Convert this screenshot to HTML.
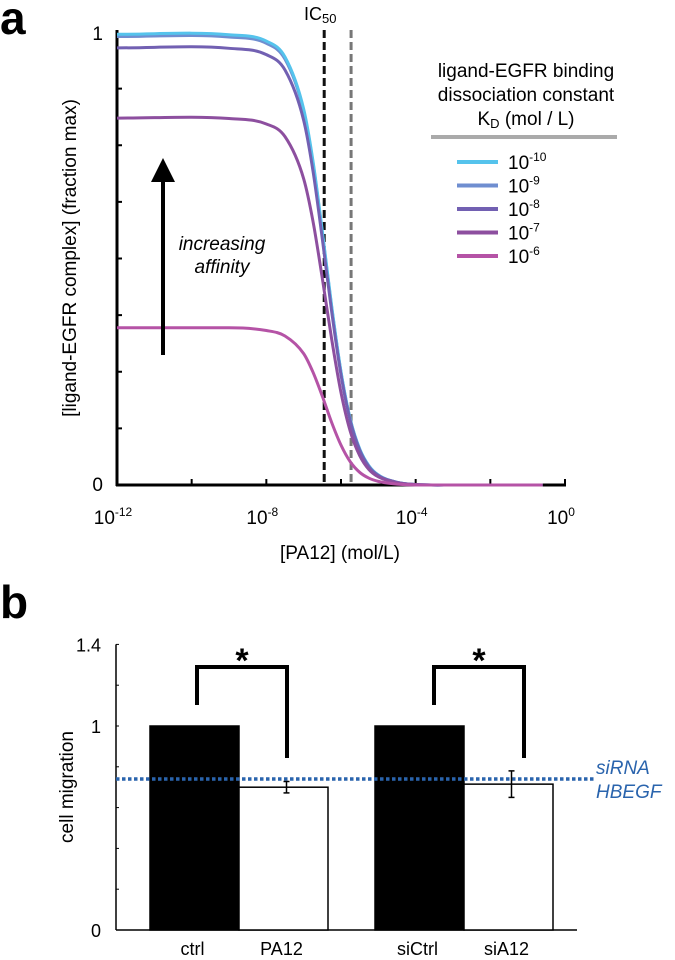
<!DOCTYPE html>
<html><head><meta charset="utf-8">
<style>
html,body{margin:0;padding:0;background:#fff;}
svg{display:block;font-family:"Liberation Sans",sans-serif;}
</style></head>
<body>
<svg width="675" height="960" viewBox="0 0 675 960">
  <text x="0" y="34" font-size="46" font-weight="bold">a</text>
  <g id="chartA"></g>
  <text x="0" y="618" font-size="46" font-weight="bold">b</text>
  <g id="chartB"></g>
</svg>
<script>
// ---- Panel a data ----
const logX = [-12,-9,-8,-7.5,-7,-6.75,-6.5,-6.25,-6,-5.75,-5.5,-5.25,-5,-4.5,-4,-3,-0.6];
const kdLabels = ["-10","-9","-8","-7","-6"];
const s10 = [.995,.994,.980,.945,.830,.715,.560,.395,.250,.145,.080,.042,.022,.006,.001,0,0];
const s9  = [.99,.989,.975,.940,.826,.711,.557,.393,.249,.144,.079,.042,.022,.006,.001,0,0];
const s8  = [.965,.964,.950,.916,.805,.693,.543,.383,.243,.141,.077,.040,.021,.006,.001,0,0];
const s7  = [.81,.809,.797,.769,.676,.582,.456,.322,.204,.118,.065,.034,.018,.005,.001,0,0];
const s6  = [.347,.347,.341,.329,.290,.249,.196,.138,.088,.051,.028,.015,.008,.002,0,0,0];
const xTickLogs = [-12,-10,-8,-6,-4,-2,0];
const xLabelLogs = [-12,-8,-4,0];
const ic50Log = -6.45;
const ic50GrayLog = -5.73;
// ---- Panel b data ----
const barCats = ["ctrl","PA12","siCtrl","siA12"];
const barVals = [1,0.70,1,0.715];
const barErrs = [0,0.028,0,0.065];
const siRNALevel = 0.74;
const yTicksB = [0,0.2,0.4,0.6,0.8,1,1.2,1.4];
const yLabelsB = ["0","1","1.4"];
const yLabelValsB = [0,1,1.4];

const NS="http://www.w3.org/2000/svg";
function mk(tag,attrs,parent,text){const e=document.createElementNS(NS,tag);for(const k in attrs)e.setAttribute(k,attrs[k]);if(text!==undefined)e.textContent=text;parent.appendChild(e);return e;}

// Panel a
const A=document.getElementById('chartA');
const ax0=117, ax1=565, ay0=485, ay1=32;
const xA=l=>ax0+(l+12)/12*(ax1-ax0);
const yA=v=>ay0-v*(ay0-ay1);
function smooth(xs,ys){
  const n=xs.length;const d=[];const m=[];
  for(let i=0;i<n-1;i++)d.push((ys[i+1]-ys[i])/(xs[i+1]-xs[i]));
  m[0]=d[0];m[n-1]=d[n-2];
  for(let i=1;i<n-1;i++){m[i]=(d[i-1]*d[i]<=0)?0:(d[i-1]+d[i])/2;}
  let p=`M${xs[0]},${ys[0]}`;
  for(let i=0;i<n-1;i++){const h=xs[i+1]-xs[i];p+=` C${xs[i]+h/3},${ys[i]+m[i]*h/3} ${xs[i+1]-h/3},${ys[i+1]-m[i+1]*h/3} ${xs[i+1]},${ys[i+1]}`;}
  return p;
}
let e;
e=mk('line',{x1:ax0,y1:ay1-2,x2:ax0,y2:ay0+1,stroke:'#000','stroke-width':3},A);


e=mk('line',{x1:ax0-1,y1:ay0,x2:ax1+1,y2:ay0,stroke:'#000','stroke-width':3},A);


for(let i=1;i<8;i++){
  e=mk('line',{x1:ax0,y1:yA(i/8),x2:ax0+5,y2:yA(i/8),stroke:'#000','stroke-width':2},A);
  
  
}
xTickLogs.forEach(l=>{
  e=mk('line',{x1:xA(l),y1:ay0,x2:xA(l),y2:ay0-6,stroke:'#000','stroke-width':2},A);
  
  
});
e=mk('text',{x:103,y:40,'font-size':19,'text-anchor':'end'},A,'1');


e=mk('text',{x:103,y:491,'font-size':19,'text-anchor':'end'},A,'0');


xLabelLogs.forEach(l=>{
  const t=mk('text',{x:xA(l)-4,y:524,'font-size':19,'text-anchor':'middle'},A);
  
  
  mk('tspan',{},t,'10');
  mk('tspan',{'font-size':12,dy:-8},t,String(l));
});
e=mk('text',{x:340,y:559,'font-size':19,'text-anchor':'middle'},A,'[PA12] (mol/L)');


e=mk('text',{x:0,y:0,'font-size':19,'text-anchor':'middle',transform:'translate(76,258) rotate(-90)'},A,'[ligand-EGFR complex] (fraction max)');


e=mk('line',{x1:xA(ic50Log),y1:30,x2:xA(ic50Log),y2:ay0,stroke:'#111','stroke-width':3,'stroke-dasharray':'8,4'},A);


e=mk('line',{x1:xA(ic50GrayLog),y1:30,x2:xA(ic50GrayLog),y2:ay0,stroke:'#777','stroke-width':3,'stroke-dasharray':'8,4'},A);


const ict=mk('text',{x:304,y:20,'font-size':18},A);


mk('tspan',{},ict,'IC');mk('tspan',{'font-size':13,dy:3},ict,'50');
// curves (drawn so low-affinity pink lies on top at the tail)
const series=[s9,s10,s8,s7,s6];
const seriesNames=["-9","-10","-8","-7","-6"];
const colors=['#6f8ed0','#55c3ec','#7260b2','#8d4f9f','#b553a6'];
const legendColors=['#55c3ec','#6f8ed0','#7260b2','#8d4f9f','#b553a6'];
const xsPix=logX.map(xA);
series.forEach((s,i)=>{
  const p=mk('path',{d:smooth(xsPix,s.map(yA)),fill:'none',stroke:colors[i],'stroke-width':3},A);
  
  
});
e=mk('line',{x1:163,y1:355,x2:163,y2:180,stroke:'#000','stroke-width':4},A);


e=mk('polygon',{points:'151,182 175,182 163,158',fill:'#000'},A);


e=mk('text',{x:222,y:250,'font-size':19,'font-style':'italic','text-anchor':'middle'},A,'increasing');


e=mk('text',{x:222,y:273,'font-size':19,'font-style':'italic','text-anchor':'middle'},A,'affinity');


['ligand-EGFR binding','dissociation constant'].forEach((t,i)=>{
  e=mk('text',{x:526,y:77+i*24,'font-size':19,'text-anchor':'middle'},A,t);
  
  
});
const kt=mk('text',{x:526,y:125,'font-size':19,'text-anchor':'middle'},A);


mk('tspan',{},kt,'K');mk('tspan',{'font-size':13,dy:3},kt,'D');mk('tspan',{dy:-3},kt,' (mol / L)');
e=mk('line',{x1:431,y1:137,x2:617,y2:137,stroke:'#aaa','stroke-width':4},A);


kdLabels.forEach((k,i)=>{
  const y=162+i*23.5;
  const g=mk('g',{},A);
  
  
  mk('line',{x1:457,y1:y,x2:498,y2:y,stroke:legendColors[i],'stroke-width':4},g);
  const t=mk('text',{x:508,y:y+7,'font-size':19},g);
  mk('tspan',{},t,'10');mk('tspan',{'font-size':12,dy:-8},t,k);
});

// Panel b
const B=document.getElementById('chartB');
const bx0=116,bx1=577,by0=930;
const yB=v=>by0-v*204;
const barX=[150,239,375,464], barW=89;
e=mk('line',{x1:bx0,y1:yB(1.4),x2:bx0,y2:by0,stroke:'#000','stroke-width':1.5},B);


e=mk('line',{x1:bx0,y1:by0,x2:bx1,y2:by0,stroke:'#000','stroke-width':1.5},B);


yTicksB.forEach(v=>{
  e=mk('line',{x1:bx0,y1:yB(v),x2:bx0+3,y2:yB(v),stroke:'#000','stroke-width':1},B);
  
  
});
yLabelsB.forEach((l,i)=>{
  e=mk('text',{x:101,y:yB(yLabelValsB[i])+7,'font-size':18,'text-anchor':'end'},B,l);
  
  
});
e=mk('text',{x:0,y:0,'font-size':19,'text-anchor':'middle',transform:'translate(73,787) rotate(-90)'},B,'cell migration');


barCats.forEach((c,i)=>{
  const r=mk('rect',{x:barX[i],y:yB(barVals[i]),width:barW,height:by0-yB(barVals[i]),fill:i%2?'#fff':'#000',stroke:'#000','stroke-width':1.5},B);
  
  
  const t=mk('text',{x:barX[i]+barW/2-2,y:955,'font-size':18,'text-anchor':'middle'},B,c);
  
  
});
e=mk('line',{x1:bx0,y1:yB(siRNALevel),x2:595,y2:yB(siRNALevel),stroke:'#2a64ad','stroke-width':3.5,'stroke-dasharray':'3.5,2.5'},B);


barCats.forEach((c,i)=>{
  if(!barErrs[i])return;
  const cx=barX[i]+barW/2+3,g=mk('g',{stroke:'#000','stroke-width':1.5},B);
  
  
  mk('line',{x1:cx,y1:yB(barVals[i]+barErrs[i]),x2:cx,y2:yB(barVals[i]-barErrs[i])},g);
  mk('line',{x1:cx-3,y1:yB(barVals[i]+barErrs[i]),x2:cx+3,y2:yB(barVals[i]+barErrs[i])},g);
  mk('line',{x1:cx-3,y1:yB(barVals[i]-barErrs[i]),x2:cx+3,y2:yB(barVals[i]-barErrs[i])},g);
});
e=mk('text',{x:596,y:774,'font-size':19,'font-style':'italic',fill:'#2a64ad'},B,'siRNA');


e=mk('text',{x:596,y:798,'font-size':19,'font-style':'italic',fill:'#2a64ad'},B,'HBEGF');


[[197,287],[434,524]].forEach((b,i)=>{
  const p=mk('path',{d:`M${b[0]},705 V667 H${b[1]} V758`,fill:'none',stroke:'#000','stroke-width':4},B);
  
  
  const t=mk('text',{x:(b[0]+b[1])/2,y:672,'font-size':34,'font-weight':'bold','text-anchor':'middle'},B,'*');
  
  
});
</script>
</body></html>
